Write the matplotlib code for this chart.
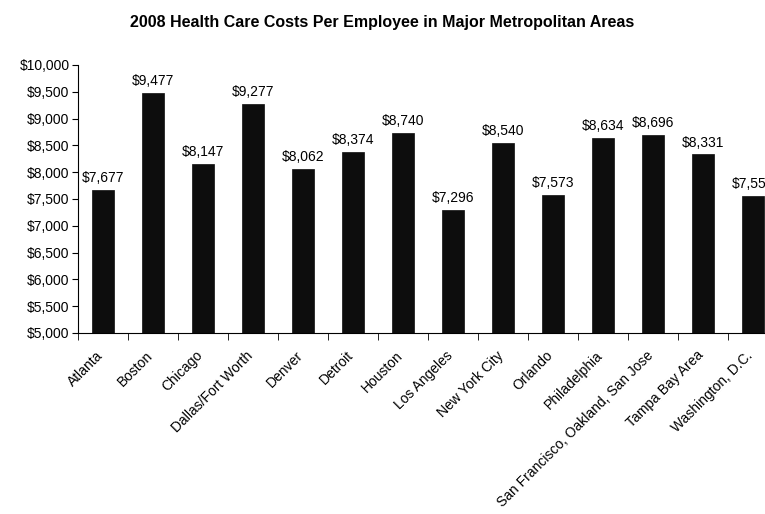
import matplotlib
matplotlib.use("Agg")
import matplotlib.pyplot as plt
from matplotlib.transforms import ScaledTranslation

plt.rcParams['font.family'] = ['Liberation Sans', 'DejaVu Sans']

cities = ["Atlanta", "Boston", "Chicago", "Dallas/Fort Worth", "Denver", "Detroit",
          "Houston", "Los Angeles", "New York City", "Orlando", "Philadelphia",
          "San Francisco, Oakland, San Jose", "Tampa Bay Area", "Washington, D.C."]
costs = [7677, 9477, 8147, 9277, 8062, 8374, 8740, 7296, 8540, 7573, 8634, 8696, 8331, 7553]
yticks = list(range(5000, 10001, 500))

fig = plt.figure(figsize=(7.65, 5.14), dpi=100)
ax = fig.add_axes([78/765, 181/514, 700/765, 268/514])
x = list(range(len(cities)))
ax.bar(x, costs, width=0.43, color='#0d0d0d', edgecolor='#0d0d0d', linewidth=0.5)
for xi, v in zip(x, costs):
    ax.text(xi, v + 90, f"${v:,}", ha='center', va='bottom', fontsize=10, color='black')

ax.set_ylim(5000, 10000)
ax.set_xlim(-0.5, len(cities) - 0.5)
ax.set_yticks(yticks)
ax.set_yticklabels([f"${t:,}" for t in yticks], fontsize=10)
ax.set_xticks(x)
ax.set_xticklabels(cities, rotation=45, ha='right', rotation_mode='anchor', fontsize=10)
ax.tick_params(axis='x', length=0, pad=11)
offset = ScaledTranslation(-7/100, 0, fig.dpi_scale_trans)
for lab in ax.get_xticklabels():
    lab.set_transform(lab.get_transform() + offset)
ax.set_xticks([i - 0.5 for i in range(len(cities) + 1)], minor=True)
ax.tick_params(axis='x', which='minor', length=5, direction='out', color='black')
ax.tick_params(axis='y', length=4, direction='out', color='black', pad=2)
for s in ['top', 'right']:
    ax.spines[s].set_visible(False)
ax.spines['left'].set_color('black')
ax.spines['bottom'].set_color('black')

fig.text(0.5, 1 - 22/514, "2008 Health Care Costs Per Employee in Major Metropolitan Areas",
         ha='center', va='center', fontsize=11.5, fontweight='bold')

fig.savefig("out.png", dpi=100)
